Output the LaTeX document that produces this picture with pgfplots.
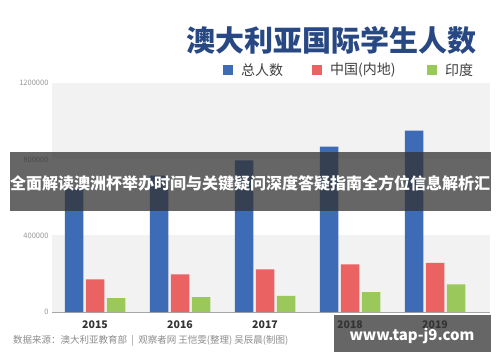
\documentclass[border=0pt]{standalone}
\usepackage{pgfplots}
\pgfplotsset{compat=1.18}
\usepackage{fontspec}
\setmainfont{Noto Sans CJK SC}
\newfontfamily\cjk{Noto Sans CJK SC}
\definecolor{cblue}{RGB}{61,107,181}
\definecolor{cred}{RGB}{234,98,98}
\definecolor{cgreen}{RGB}{155,200,90}
\definecolor{ctitle}{RGB}{40,72,132}
\definecolor{cband}{RGB}{242,242,242}
\definecolor{ctick}{RGB}{150,150,150}
\begin{document}
\begin{tikzpicture}[x=1pt,y=1pt]
\useasboundingbox (0,0) rectangle (500,362);
\fill[white] (0,0) rectangle (500,362);
% background bands
\fill[cband] (52,50) rectangle (490,127);
\fill[cband] (52,203.3) rectangle (490,279);
\begin{axis}[
  at={(52pt,50pt)}, anchor=south west,
  scale only axis, width=438pt, height=229pt,
  xmin=-0.506, xmax=4.647, ymin=0, ymax=1200000,
  axis lines*=left,
  y axis line style={draw=none},
  x axis line style={draw=black!35, line width=0.8pt},
  tick style={draw=none},
  scaled y ticks=false,
  ytick={0,400000,800000,1200000},
  yticklabels={0,400000,800000,1200000},
  yticklabel style={font=\fontsize{7.5}{8}\selectfont, text=ctick, anchor=east, xshift=0pt},
  xtick={0,1,2,3,4},
  xticklabels={2015,2016,2017,2018,2019},
  xticklabel style={font=\fontsize{10.5}{11}\selectfont\bfseries, text=black!80, yshift=-1pt},
  /pgf/number format/assume math mode=true,
  ybar, bar width=18.5pt,
  clip=false,
]
\addplot[fill=cblue, draw=none, bar shift=-21pt] coordinates {(0,645000) (1,714000) (2,795000) (3,867000) (4,950000)};
\addplot[fill=cred, draw=none, bar shift=0pt] coordinates {(0,171000) (1,197000) (2,223000) (3,249000) (4,258000)};
\addplot[fill=cgreen, draw=none, bar shift=21pt] coordinates {(0,73000) (1,78000) (2,84000) (3,104000) (4,145000)};
\end{axis}
% title
\node[anchor=east, text=ctitle, font=\fontsize{29}{32}\selectfont\bfseries\cjk] at (480,322) {澳大利亚国际学生人数};
% legend
\fill[cblue] (223,287) rectangle (233,297);
\node[anchor=west, text=black!75, font=\fontsize{14}{16}\selectfont\cjk, inner sep=0pt] at (241,292) {总人数};
\fill[cred] (312,287) rectangle (322,297);
\node[anchor=west, text=black!75, font=\fontsize{14}{16}\selectfont\cjk, inner sep=0pt] at (330,292) {中国(内地)};
\fill[cgreen] (427,287) rectangle (437,297);
\node[anchor=west, text=black!75, font=\fontsize{14}{16}\selectfont\cjk, inner sep=0pt] at (445,292) {印度};
% source
\node[anchor=west, text=black!45, font=\fontsize{9.5}{11}\selectfont\cjk, inner sep=0pt] at (13,21) {数据来源：澳大利亚教育部 \ | \ 观察者网 王恺雯(整理) 吴辰晨(制图)};
% overlay band
\fill[black!80, opacity=0.75] (10,151) rectangle (491,210);
\node[text=white, font=\fontsize{16}{17}\selectfont\bfseries\cjk, inner sep=0pt] at (250,179) {全面解读澳洲杯举办时间与关键疑问深度答疑指南全方位信息解析汇};
% watermark
\fill[black!80, opacity=0.75] (334,10) rectangle (491,47);
\node[text=white, font=\fontsize{15}{16}\selectfont\bfseries, inner sep=0pt] at (412,26) {www.tap-j9.com};
\end{tikzpicture}
\end{document}
